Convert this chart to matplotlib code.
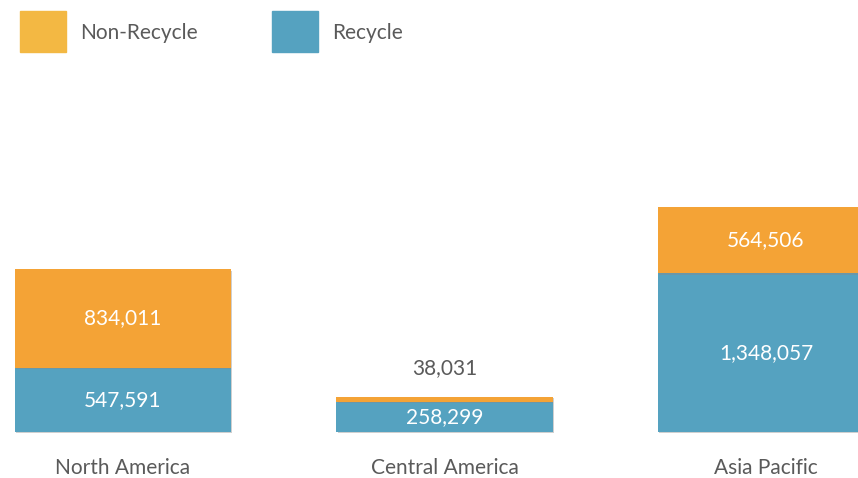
import numpy as np
import matplotlib.pyplot as plt
import matplotlib.patheffects as pe
from matplotlib.patches import Rectangle

regions = ["North America", "Central America", "Asia Pacific"]
recycle = [547591, 258299, 1348057]
non_recycle = [834011, 38031, 564506]
series = ["Non-Recycle", "Recycle"]

c_rec = "#55a2c0"
c_non = "#f4a336"
c_non_leg = "#f3b843"
grey = "#5a5a5a"

plt.rcParams['font.family'] = ['Lato', 'DejaVu Sans']

W, H = 858, 478
fig = plt.figure(figsize=(W / 100, H / 100), dpi=100)
ax = fig.add_axes([0, 0, 1, 1])

k = 8490  # value per pixel
x = np.arange(len(regions))
w = 0.672
shadow = [pe.SimplePatchShadow(offset=(1, -1), shadow_rgbFace="#888888", alpha=0.4), pe.Normal()]

ax.bar(x, recycle, w, color=c_rec, path_effects=shadow)
ax.bar(x, non_recycle, w, bottom=recycle, color=c_non, path_effects=shadow)

for i in range(len(regions)):
    ax.text(x[i], recycle[i] / 2, f"{recycle[i]:,}", ha="center", va="center",
            color="white", fontsize=15)
    if non_recycle[i] / k > 25:
        ax.text(x[i], recycle[i] + non_recycle[i] / 2, f"{non_recycle[i]:,}",
                ha="center", va="center", color="white", fontsize=15)
    else:
        # too thin to hold its label, put it above
        ax.text(x[i], recycle[i] + non_recycle[i] + 29 * k, f"{non_recycle[i]:,}",
                ha="center", va="center", color=grey, fontsize=15)
    ax.text(x[i], -36 * k, regions[i], ha="center", va="center", color=grey, fontsize=15)

ax.set_xlim(-123 / 321.5, (W - 123) / 321.5)
ax.set_ylim(-46 * k, 432 * k)
ax.axis("off")

# legend drawn by hand in pixel positions
for lx, col, lab in [(20, c_non_leg, series[0]), (272, c_rec, series[1])]:
    fig.patches.append(Rectangle((lx / W, 1 - 52 / H), 46 / W, 41 / H,
                                 transform=fig.transFigure, color=col))
    fig.text((lx + 60) / W, 1 - 33 / H, lab, ha="left", va="center",
             color=grey, fontsize=15)

fig.savefig("out.png", dpi=100)
